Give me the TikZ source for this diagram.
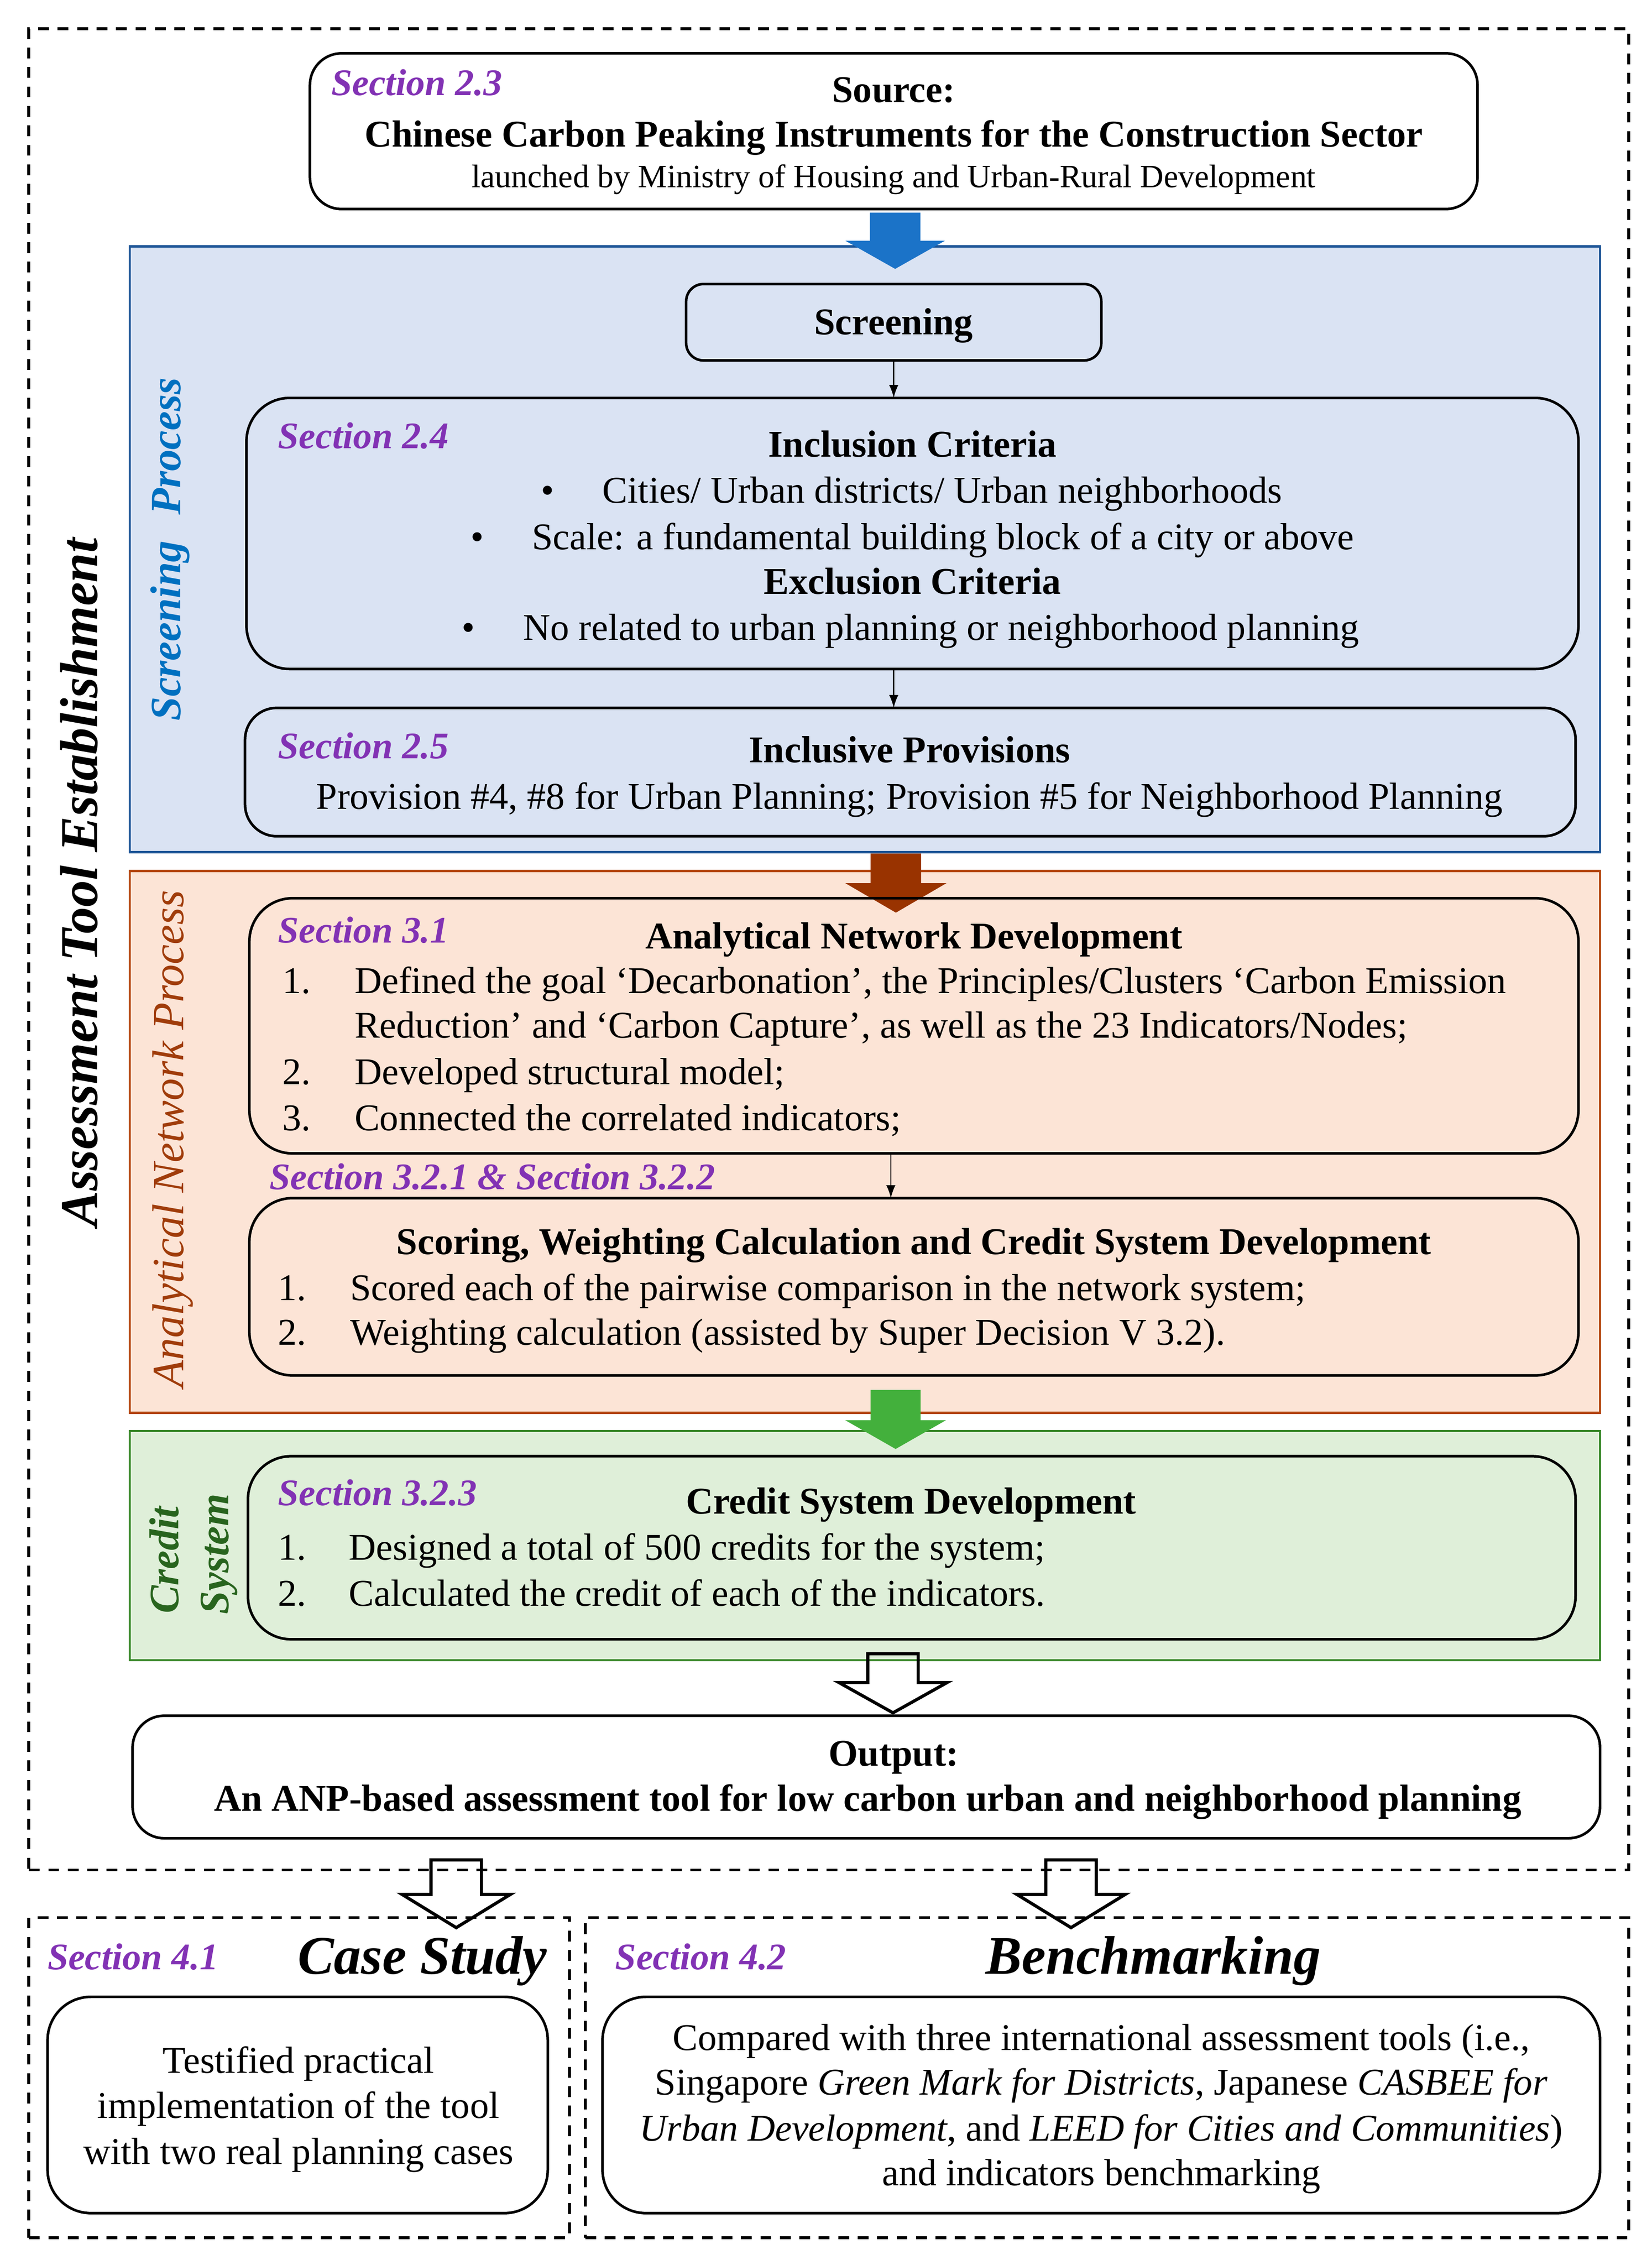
\documentclass[tikz,border=0pt]{standalone}
\usepackage{fontspec}
\setmainfont{Liberation Serif}
\usetikzlibrary{fit,arrows.meta}
\definecolor{secpurple}{RGB}{130,50,180}
\definecolor{bluefill}{RGB}{218,227,243}
\definecolor{blueborder}{RGB}{28,84,150}
\definecolor{bluearrow}{RGB}{27,115,200}
\definecolor{bluelabel}{RGB}{0,112,192}
\definecolor{anpfill}{RGB}{252,228,214}
\definecolor{anpborder}{RGB}{180,70,15}
\definecolor{brownarrow}{RGB}{153,51,0}
\definecolor{anplabel}{RGB}{160,60,10}
\definecolor{crfill}{RGB}{223,239,217}
\definecolor{crborder}{RGB}{55,135,40}
\definecolor{greenarrow}{RGB}{67,176,60}
\definecolor{crlabel}{RGB}{40,100,30}
\newcommand\barrow[7]{\path[#1] (#2-#6,#3) -- (#2+#6,#3) -- (#2+#6,#4) -- (#2+#7,#4) -- (#2,#5) -- (#2-#7,#4) -- (#2-#6,#4) -- cycle;}
\tikzset{
  every node/.style={inner sep=0pt, outer sep=0pt},
  rbox/.style={draw=black, line width=1.8pt, rounded corners=#1, inner sep=0pt},
  region/.style={line width=1.6pt, inner sep=0pt},
  sec/.style={text=secpurple, font=\fontsize{26}{30}\selectfont\bfseries\itshape, anchor=base west},
  ttl/.style={font=\fontsize{26.2}{30}\selectfont\bfseries, anchor=base},
  txt/.style={font=\fontsize{26.2}{30}\selectfont, anchor=base west},
  ctxt/.style={font=\fontsize{26.2}{30}\selectfont, anchor=base},
  bul/.style={font=\fontsize{26.2}{30}\selectfont, anchor=base},
  big/.style={font=\fontsize{37.7}{42}\selectfont\bfseries\itshape, anchor=base},
  thinarr/.style={-{Latex[length=9pt,width=6.5pt]}, line width=0.9pt},
  dashbox/.style={draw=black, dash pattern=on 7.5pt off 6pt, line width=2pt, inner sep=0pt},
  hollow/.style={draw=black, line width=2.2pt, line join=miter}
}
\begin{document}
\begin{tikzpicture}[x=1pt,y=-1pt]
\useasboundingbox (0,0) rectangle (1146,1571);
\fill[white] (0,0) rectangle (1146,1571);

% outer dashed frame
\node[dashbox, fit={(20,20)(1130,1297)}] (outer) {};
\node[rotate=90, font=\fontsize{37}{44}\selectfont\bfseries\itshape] (atlbl) at (55,612) {Assessment Tool Establishment};

% source
\node[rbox=22pt, fill=white, fit={(215,37)(1025,145)}] (src) {};
\node[sec] (s23) at (230,66) {Section 2.3};
\node[ttl] (srct) at (620,71) {Source:};
\node[ttl] (srcn) at (620,102) {Chinese Carbon Peaking Instruments for the Construction Sector};
\node[font=\fontsize{22.6}{26}\selectfont, anchor=base] (srcl) at (620,130) {launched by Ministry of Housing and Urban-Rural Development};

% screening region
\node[region, fill=bluefill, draw=blueborder, fit={(90,171)(1110,591)}] (scrreg) {};
\barrow{fill=bluearrow}{621}{147.5}{167}{186.5}{17.5}{34.5}
\node[rotate=90, text=bluelabel, font=\fontsize{30}{34}\selectfont\bfseries\itshape] (scrlbl) at (118,381) {Screening\hspace{0.6em}Process};

\node[rbox=12pt, fit={(476,197)(764,250)}] (scrn) {};
\node[ttl] (scrnt) at (620,232) {Screening};

\node[rbox=30pt, fit={(171,276)(1095,464)}] (incl) {};
\node[sec] (s24) at (193,311) {Section 2.4};
\node[ttl] (inct) at (633,317) {Inclusion Criteria};
\node[bul] (b1) at (380,349) {•};
\node[txt] (b1t) at (418,349) {Cities/ Urban districts/ Urban neighborhoods};
\node[bul] (b2) at (331,381) {•};
\node[txt] (b2t) at (369,381) {Scale: a fundamental building block of a city or above};
\node[ttl] (exct) at (633,412) {Exclusion Criteria};
\node[bul] (b3) at (325,444) {•};
\node[txt] (b3t) at (363,444) {No related to urban planning or neighborhood planning};

\node[rbox=22pt, fit={(170,491)(1093,580)}] (prov) {};
\node[sec] (s25) at (193,526) {Section 2.5};
\node[ttl] (provt) at (631,529) {Inclusive Provisions};
\node[ctxt] (provx) at (631,561) {Provision \#4, \#8 for Urban Planning; Provision \#5 for Neighborhood Planning};

\draw[thinarr] (scrn.south) -- (scrn.south |- incl.north);
\draw[thinarr] (incl.south -| scrn.south) -- (prov.north -| scrn.south);

% ANP region
\node[region, fill=anpfill, draw=anpborder, fit={(90,604)(1110,980)}] (anpreg) {};
\barrow{fill=brownarrow}{621.5}{592}{612.6}{633}{17.5}{35}
\node[rotate=90, text=anplabel, font=\fontsize{31}{34}\selectfont\itshape] (anplbl) at (120,790) {Analytical Network Process};

\node[rbox=30pt, fit={(173,623)(1095,800)}] (anp1) {};
\node[sec] (s31) at (193,654) {Section 3.1};
\node[ttl] (anp1t) at (634,658) {Analytical Network Development};
\node[txt] (n11) at (196,689) {1.};
\node[txt] (n11t) at (246,689) {Defined the goal ‘Decarbonation’, the Principles/Clusters ‘Carbon Emission};
\node[txt] (n11u) at (246,720) {Reduction’ and ‘Carbon Capture’, as well as the 23 Indicators/Nodes;};
\node[txt] (n12) at (196,752) {2.};
\node[txt] (n12t) at (246,752) {Developed structural model;};
\node[txt] (n13) at (196,784) {3.};
\node[txt] (n13t) at (246,784) {Connected the correlated indicators;};

\node[sec] (s32) at (187,825) {Section 3.2.1 \& Section 3.2.2};

\node[rbox=30pt, fit={(173,831)(1095,954)}] (anp2) {};
\node[ttl] (anp2t) at (634,870) {Scoring, Weighting Calculation and Credit System Development};
\node[txt] (n21) at (193,902) {1.};
\node[txt] (n21t) at (243,902) {Scored each of the pairwise comparison in the network system;};
\node[txt] (n22) at (193,933) {2.};
\node[txt] (n22t) at (243,933) {Weighting calculation (assisted by Super Decision V 3.2).};

\coordinate (ax) at (618,0);
\draw[thinarr] (anp1.south -| ax) -- (anp2.north -| ax);

% credit region
\node[region, fill=crfill, draw=crborder, fit={(90,992.5)(1110,1151.5)}] (crreg) {};
\barrow{fill=greenarrow}{621.3}{964}{985}{1005}{17.3}{35}
\node[rotate=90, text=crlabel, font=\fontsize{29}{34}\selectfont\bfseries\itshape] (crl1) at (114,1082) {Credit};
\node[rotate=90, text=crlabel, font=\fontsize{29}{34}\selectfont\bfseries\itshape] (crl2) at (152,1078) {System};

\node[rbox=30pt, fit={(172,1010)(1093,1137)}] (cr) {};
\node[sec] (s323) at (193,1044) {Section 3.2.3};
\node[ttl] (crt) at (632,1050) {Credit System Development};
\node[txt] (c1) at (193,1082) {1.};
\node[txt] (c1t) at (242,1082) {Designed a total of 500 credits for the system;};
\node[txt] (c2) at (193,1114) {2.};
\node[txt] (c2t) at (242,1114) {Calculated the credit of each of the indicators.};

% output
\barrow{hollow}{619.5}{1147}{1167}{1188}{17.5}{37.5}
\node[rbox=22pt, fit={(92,1190)(1110,1275)}] (out) {};
\node[ttl] (outt) at (620,1225) {Output:};
\node[ttl] (outx) at (602,1256) {An ANP-based assessment tool for low carbon urban and neighborhood planning};

% bottom
\barrow{hollow}{316.5}{1290}{1314}{1337}{17.5}{37.5}
\barrow{hollow}{743}{1290}{1314}{1337}{17.5}{37.5}
\node[dashbox, fit={(20,1330)(395,1552)}] (csbox) {};
\node[dashbox, fit={(406,1330)(1130,1552)}] (bmbox) {};
\node[sec] (s41) at (33,1366) {Section 4.1};
\node[big] (cst) at (293,1369) {Case Study};
\node[sec] (s42) at (427,1366) {Section 4.2};
\node[big] (bmt) at (800,1369) {Benchmarking};

\node[rbox=30pt, fit={(33,1385)(380,1535)}] (cs) {};
\node[ctxt] (cs1) at (207,1438) {Testified practical};
\node[ctxt] (cs2) at (207,1469) {implementation of the tool};
\node[ctxt] (cs3) at (207,1501) {with two real planning cases};

\node[rbox=30pt, fit={(418,1385)(1110,1535)}] (bm) {};
\node[ctxt] (bm1) at (764,1422) {Compared with three international assessment tools (i.e.,};
\node[ctxt] (bm2) at (764,1453) {Singapore \textit{Green Mark for Districts}, Japanese \textit{CASBEE for}};
\node[ctxt] (bm3) at (764,1485) {\textit{Urban Development}, and \textit{LEED for Cities and Communities})};
\node[ctxt] (bm4) at (764,1516) {and indicators benchmarking};
\end{tikzpicture}
\end{document}
